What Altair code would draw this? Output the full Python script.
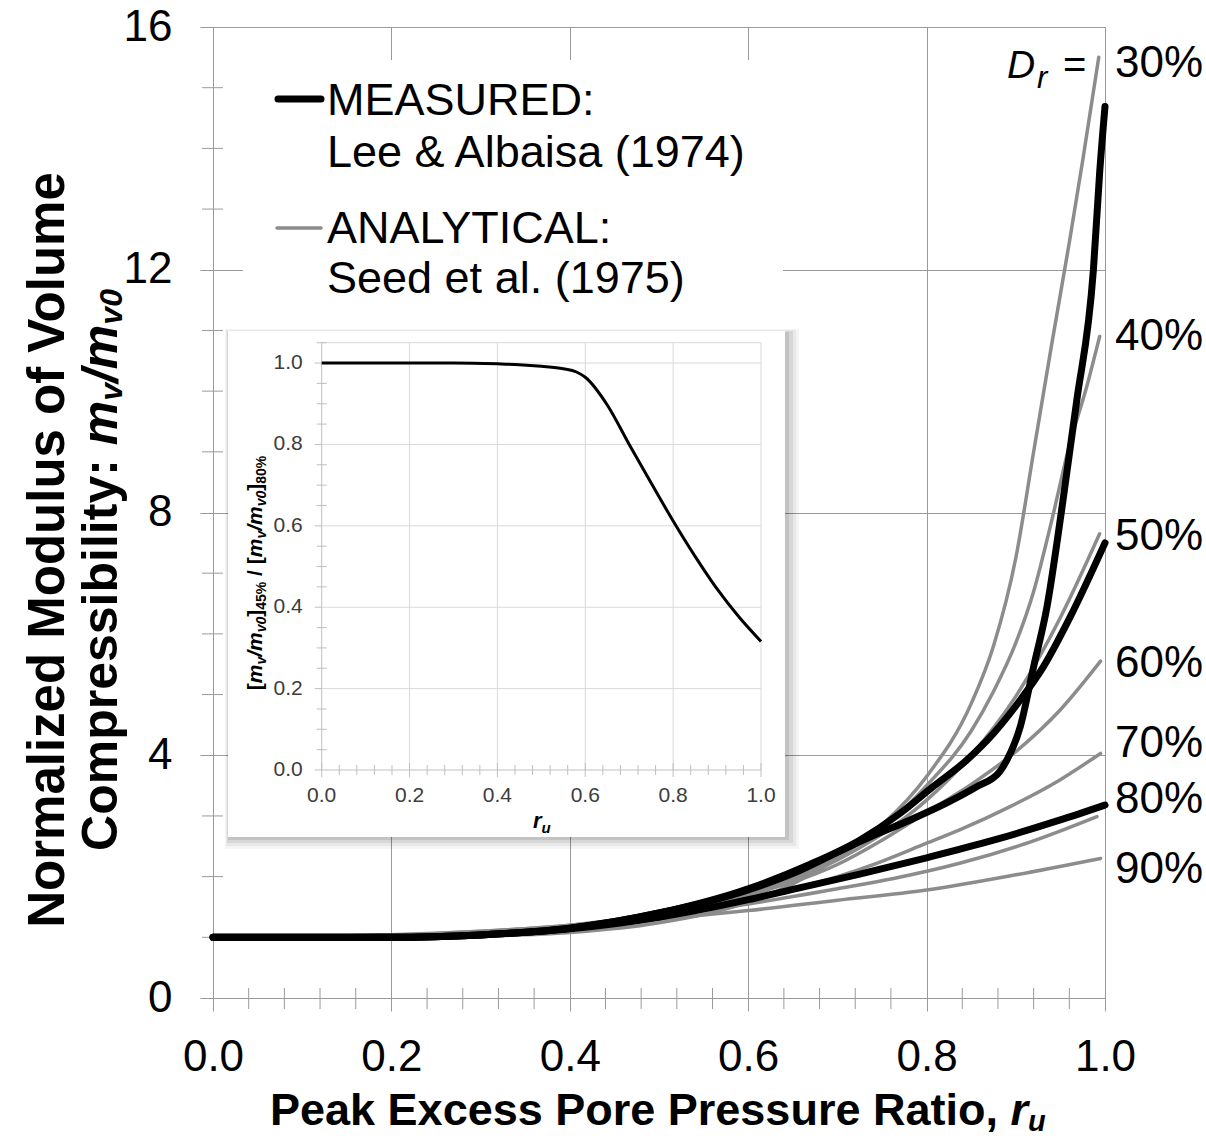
import altair as alt
import pandas as pd

FONT = "Liberation Sans, Arial, Helvetica, sans-serif"

# ---------------- data ----------------
DR_LABELS = ["30%", "40%", "50%", "60%", "70%", "80%", "90%"]

# analytical curves, Seed et al. (1975)
AN_RU = [
    [0.0, 0.1, 0.2, 0.3, 0.4, 0.5, 0.6, 0.65, 0.7, 0.75, 0.8, 0.85, 0.875, 0.9, 0.92, 0.94, 0.96, 0.975, 0.993],
    [0.0, 0.2, 0.3, 0.4, 0.5, 0.6, 0.65, 0.7, 0.75, 0.8, 0.85, 0.875, 0.9, 0.92, 0.94, 0.96, 0.98, 0.994],
    [0.0, 0.2, 0.3, 0.4, 0.5, 0.6, 0.7, 0.75, 0.8, 0.85, 0.9, 0.95, 0.994],
    [0.0, 0.2, 0.3, 0.4, 0.5, 0.6, 0.7, 0.75, 0.8, 0.85, 0.9, 0.95, 0.995],
    [0.0, 0.2, 0.3, 0.4, 0.5, 0.6, 0.7, 0.744, 0.8, 0.837, 0.893, 0.949, 0.995],
    [0.0, 0.2, 0.3, 0.4, 0.5, 0.6, 0.7, 0.763, 0.837, 0.912, 0.991],
    [0.0, 0.2, 0.3, 0.4, 0.5, 0.6, 0.7, 0.8, 0.9, 0.995],
]
AN_MV = [
    [1.0, 1.0, 1.002, 1.02, 1.08, 1.24, 1.58, 1.88, 2.3, 2.85, 3.65, 4.85, 5.8, 7.25, 9.0, 10.75, 12.45, 13.8, 15.5],
    [1.0, 1.005, 1.034, 1.12, 1.31, 1.67, 1.96, 2.34, 2.8, 3.5, 4.4, 5.05, 5.85, 6.7, 7.85, 9.1, 10.1, 10.9],
    [1.0, 1.011, 1.053, 1.156, 1.353, 1.696, 2.276, 2.70, 3.26, 4.0, 4.97, 6.27, 7.65],
    [1.0, 1.019, 1.074, 1.19, 1.38, 1.70, 2.2, 2.6, 3.06, 3.52, 4.06, 4.75, 5.55],
    [1.0, 1.028, 1.091, 1.20, 1.38, 1.635, 2.0, 2.22, 2.55, 2.77, 3.15, 3.59, 4.03],
    [1.0, 1.037, 1.10, 1.20, 1.35, 1.55, 1.80, 1.97, 2.22, 2.55, 2.99],
    [1.0, 1.042, 1.10, 1.187, 1.30, 1.44, 1.61, 1.78, 2.03, 2.30],
]

# measured curves, Lee & Albaisa (1974)
ME_NAMES = ["measured_a", "measured_b", "measured_c"]
ME_RU = [
    [0.0, 0.2, 0.3, 0.4, 0.5, 0.6, 0.65, 0.7, 0.744, 0.781, 0.822, 0.856, 0.882, 0.89, 0.905, 0.92, 0.935, 0.951, 0.968, 0.987, 0.994, 1.0],
    [0.0, 0.2, 0.3, 0.4, 0.5, 0.6, 0.669, 0.725, 0.77, 0.807, 0.845, 0.875, 0.905, 0.931, 0.961, 1.0],
    [0.0, 0.2, 0.3, 0.4, 0.5, 0.6, 0.65, 0.725, 0.8, 0.875, 0.949, 1.0],
]
ME_MV = [
    [1.0, 1.0, 1.04, 1.15, 1.4, 1.78, 2.05, 2.4, 2.7, 2.93, 3.21, 3.48, 3.73, 3.92, 4.47, 5.46, 6.45, 8.0, 9.81, 12.0, 13.6, 14.69],
    [1.0, 1.0, 1.04, 1.15, 1.4, 1.8, 2.2, 2.6, 3.04, 3.48, 3.92, 4.36, 4.91, 5.46, 6.28, 7.5],
    [1.0, 1.0, 1.04, 1.14, 1.33, 1.62, 1.79, 2.04, 2.31, 2.60, 2.93, 3.18],
]

# inset: [mv/mv0]45% / [mv/mv0]80%
INS_RU = [0.0, 0.1, 0.2, 0.3, 0.4, 0.45, 0.5, 0.55, 0.58, 0.6, 0.65, 0.7, 0.75, 0.8, 0.85, 0.9, 0.95, 1.0]
INS_RATIO = [1.0, 1.0, 1.0, 1.0, 0.998, 0.996, 0.992, 0.986, 0.978, 0.965, 0.897, 0.8, 0.705, 0.612, 0.525, 0.445, 0.376, 0.316]

# tick values
X_MAJOR = [0.0, 0.2, 0.4, 0.6, 0.8, 1.0]
X_MINOR = [0.04, 0.08, 0.12, 0.16, 0.24, 0.28, 0.32, 0.36, 0.44, 0.48, 0.52, 0.56,
           0.64, 0.68, 0.72, 0.76, 0.84, 0.88, 0.92, 0.96]
Y_MAJOR = [0, 4, 8, 12, 16]
Y_MINOR = [1, 2, 3, 5, 6, 7, 9, 10, 11, 13, 14, 15]
INS_X_MAJOR = [0.0, 0.2, 0.4, 0.6, 0.8, 1.0]
INS_Y_MAJOR = [0.0, 0.2, 0.4, 0.6, 0.8, 1.0]
INS_Y_MINOR = [0.05, 0.1, 0.15, 0.25, 0.3, 0.35, 0.45, 0.5, 0.55, 0.65, 0.7, 0.75,
               0.85, 0.9, 0.95, 1.05]

# ---------------- layout / style ----------------
OX, OY, W, H = 213, 27, 892, 971          # plot-area origin and size
GRID = "#9a9a9a"
GRAY = "#8c8c8c"
IGRID = "#d9d9d9"
IAXIS = "#bfbfbf"
ILAB = "#3c3c3c"
LABEL_BASE_Y = [77, 350, 550, 677, 757, 813, 883]

BOLD_W = {' ': 278, '!': 333, '%': 889, '&': 722, '(': 333, ')': 333, ',': 278, '-': 333, '.': 278,
          '/': 278, ':': 333, '=': 584, '[': 333, ']': 333,
          'A': 722, 'B': 722, 'C': 722, 'D': 722, 'E': 667, 'F': 611, 'G': 778, 'H': 722, 'I': 278,
          'J': 556, 'K': 722, 'L': 611, 'M': 833, 'N': 722, 'O': 778, 'P': 667, 'Q': 778, 'R': 722,
          'S': 667, 'T': 611, 'U': 722, 'V': 667, 'W': 944, 'X': 667, 'Y': 667, 'Z': 611,
          'a': 556, 'b': 611, 'c': 556, 'd': 611, 'e': 556, 'f': 333, 'g': 611, 'h': 611, 'i': 278,
          'j': 278, 'k': 556, 'l': 278, 'm': 889, 'n': 611, 'o': 611, 'p': 611, 'q': 611, 'r': 389,
          's': 556, 't': 333, 'u': 611, 'v': 556, 'w': 778, 'x': 556, 'y': 556, 'z': 500}


def bw(s, size):
    return sum(BOLD_W.get(c, 556) for c in s) * size / 1000.0


def seg_rows(segs, x0, y0, angle=0):
    rows, pos = [], 0.0
    for text, size, style, weight, shift in segs:
        if angle == 0:
            x, y = x0 + pos, y0 + shift
        else:
            x, y = x0 + shift, y0 - pos
        rows.append(dict(text=text, x=x, y=y, size=size, angle=angle, style=style,
                         weight=weight, align="left", color="#000000"))
        pos += bw(text, size)
    return rows


def seg_total(segs):
    return sum(bw(t, s) for t, s, *_ in segs)


def text_layers(rows):
    df = pd.DataFrame(rows)
    df["x"] = df["x"] - OX
    df["y"] = df["y"] - OY
    out = []
    for (style, weight, align), g in df.groupby(["style", "weight", "align"]):
        out.append(
            alt.Chart(g.reset_index(drop=True)).mark_text(
                font=FONT, fontStyle=style, fontWeight=weight, align=align, baseline="alphabetic"
            ).encode(
                x=alt.X("x:Q", scale=None),
                y=alt.Y("y:Q", scale=None),
                text="text:N",
                size=alt.Size("size:Q", scale=None, legend=None),
                angle=alt.Angle("angle:Q", scale=None),
                color=alt.Color("color:N", scale=None),
            )
        )
    return out


one = pd.DataFrame({"k": [1]})

# ---------------- main panel ----------------
XS = alt.Scale(domain=[0, 1], nice=False, zero=False)
YS = alt.Scale(domain=[0, 16], nice=False, zero=False)
x_axis = alt.Axis(values=X_MAJOR, format=".1f", title=None, grid=True, gridColor=GRID, gridWidth=1,
                  tickSize=13, tickColor=GRID, domainColor=GRID, labelFont=FONT, labelFontSize=44,
                  labelColor="#000000", labelPadding=24, labelFlush=False, labelOverlap=False)
y_axis = alt.Axis(values=Y_MAJOR, format="d", title=None, grid=True, gridColor=GRID, gridWidth=1,
                  tickSize=13, tickColor=GRID, domainColor=GRID, labelFont=FONT, labelFontSize=44,
                  labelColor="#000000", labelPadding=28, labelFlush=False, labelOverlap=False)
XE = alt.X("ru:Q", scale=XS, axis=x_axis)
YE = alt.Y("mv:Q", scale=YS, axis=y_axis)

analytical = pd.concat(
    [pd.DataFrame({"ru": r, "mv": m, "series": lab}) for lab, r, m in zip(DR_LABELS, AN_RU, AN_MV)],
    ignore_index=True)
measured = pd.concat(
    [pd.DataFrame({"ru": r, "mv": m, "series": n}) for n, r, m in zip(ME_NAMES, ME_RU, ME_MV)],
    ignore_index=True)

legend_box = alt.Chart(one).mark_rect(color="white").encode(
    x=alt.value(243 - OX), x2=alt.value(783 - OX), y=alt.value(60 - OY), y2=alt.value(331 - OY))

x_minor = alt.Chart(pd.DataFrame({"ru": X_MINOR})).mark_rule(
    color=GRID, strokeWidth=1, yOffset=-10, y2Offset=11).encode(
    x=XE, y=alt.YDatum(0, scale=YS, axis=y_axis), y2=alt.Y2Datum(0))
y_minor = alt.Chart(pd.DataFrame({"mv": Y_MINOR})).mark_rule(
    color=GRID, strokeWidth=1, xOffset=-11, x2Offset=10).encode(
    y=YE, x=alt.XDatum(0, scale=XS, axis=x_axis), x2=alt.X2Datum(0))

gray_lines = alt.Chart(analytical).mark_line(
    color=GRAY, strokeWidth=3.5, interpolate="monotone", strokeCap="round").encode(
    x=XE, y=YE, detail="series:N")
black_lines = alt.Chart(measured).mark_line(
    color="#000000", strokeWidth=7, interpolate="monotone", strokeCap="round", strokeJoin="round").encode(
    x=XE, y=YE, detail="series:N")

leg_black = alt.Chart(one).mark_rule(color="#000000", strokeWidth=7, strokeCap="round").encode(
    x=alt.value(278 - OX), x2=alt.value(321 - OX), y=alt.value(99 - OY))
leg_gray = alt.Chart(one).mark_rule(color=GRAY, strokeWidth=3.5, strokeCap="round").encode(
    x=alt.value(277 - OX), x2=alt.value(321 - OX), y=alt.value(228 - OY))

main_rows = []
for lab, by in zip(DR_LABELS, LABEL_BASE_Y):
    main_rows.append(dict(text=lab, x=1115, y=by, size=44, angle=0, style="normal",
                          weight="normal", align="left", color="#000000"))
main_rows += [
    dict(text="D", x=1007, y=78, size=39, angle=0, style="italic", weight="normal", align="left", color="#000000"),
    dict(text="r", x=1037, y=88, size=31, angle=0, style="italic", weight="normal", align="left", color="#000000"),
    dict(text="=", x=1063, y=78, size=40, angle=0, style="normal", weight="normal", align="left", color="#000000"),
]
for txt, by in [("MEASURED:", 115), ("Lee & Albaisa (1974)", 167), ("ANALYTICAL:", 243), ("Seed et al. (1975)", 293)]:
    main_rows.append(dict(text=txt, x=327, y=by, size=45, angle=0, style="normal",
                          weight="normal", align="left", color="#000000"))
# x-axis title
main_rows += seg_rows([("Peak Excess Pore Pressure Ratio,", 45, "normal", "bold", 0),
                       (" ", 45, "normal", "bold", 0),
                       ("r", 45, "italic", "bold", 0),
                       ("u", 29, "italic", "bold", 6)], 270, 1125)
# y-axis title (two lines, rotated)
main_rows.append(dict(text="Normalized Modulus of Volume", x=64, y=550, size=51, angle=270,
                      style="normal", weight="bold", align="center", color="#000000"))
ytl2 = [("Compressibility:", 50, "normal", "bold", 0), (" ", 50, "normal", "bold", 0),
        ("m", 50, "italic", "bold", 0), ("v", 32, "italic", "bold", 5),
        ("/m", 50, "italic", "bold", 0), ("v0", 32, "italic", "bold", 5)]
main_rows += seg_rows(ytl2, 117, 570 + seg_total(ytl2) / 2, angle=270)

main = alt.layer(legend_box, x_minor, y_minor, gray_lines, black_lines, leg_black, leg_gray,
                 *text_layers(main_rows))

# ---------------- inset panel ----------------
XI = alt.Scale(domain=[0, 1], range=[321.7 - OX, 761 - OX], nice=False, zero=False)
YI = alt.Scale(domain=[0, 1.05], range=[770 - OY, 342.7 - OY], nice=False, zero=False)
XIE = alt.X("ru:Q", scale=XI, axis=None)
YIE = alt.Y("ratio:Q", scale=YI, axis=None)

box = (228, 331, 785, 837)
shadow_layers = []
for dx1, dy1, dx2, dy2, op in [(-3, -2, 14, 12, 0.04), (-2, -1, 11, 9, 0.05),
                               (-1, 0, 8, 6, 0.07), (0, 1, 4, 3, 0.09)]:
    shadow_layers.append(alt.Chart(one).mark_rect(color="#000000", opacity=op).encode(
        x=alt.value(box[0] + dx1 - OX), x2=alt.value(box[2] + dx2 - OX),
        y=alt.value(box[1] + dy1 - OY), y2=alt.value(box[3] + dy2 - OY)))
inset_box = alt.Chart(one).mark_rect(color="white").encode(
    x=alt.value(box[0] - OX), x2=alt.value(box[2] - OX), y=alt.value(box[1] - OY), y2=alt.value(box[3] - OY))

ih_grid = alt.Chart(pd.DataFrame({"ratio": INS_Y_MAJOR[1:] + [1.05]})).mark_rule(color=IGRID, strokeWidth=1).encode(
    y=YIE, x=alt.XDatum(0, scale=XI, axis=None), x2=alt.X2Datum(1))
iv_grid = alt.Chart(pd.DataFrame({"ru": INS_X_MAJOR[1:]})).mark_rule(color=IGRID, strokeWidth=1).encode(
    x=XIE, y=alt.YDatum(0, scale=YI, axis=None), y2=alt.Y2Datum(1.05))
i_left = alt.Chart(one).mark_rule(color=IAXIS, strokeWidth=1).encode(
    x=alt.XDatum(0, scale=XI, axis=None), y=alt.YDatum(0, scale=YI, axis=None), y2=alt.Y2Datum(1.05))
i_bottom = alt.Chart(one).mark_rule(color=IAXIS, strokeWidth=1).encode(
    y=alt.YDatum(0, scale=YI, axis=None), x=alt.XDatum(0, scale=XI, axis=None), x2=alt.X2Datum(1))
iy_major = alt.Chart(pd.DataFrame({"ratio": INS_Y_MAJOR})).mark_rule(
    color=IAXIS, xOffset=-7, x2Offset=0).encode(
    y=YIE, x=alt.XDatum(0, scale=XI, axis=None), x2=alt.X2Datum(0))
iy_minor = alt.Chart(pd.DataFrame({"ratio": INS_Y_MINOR})).mark_rule(
    color=IAXIS, xOffset=-5, x2Offset=5).encode(
    y=YIE, x=alt.XDatum(0, scale=XI, axis=None), x2=alt.X2Datum(0))
ix_major = alt.Chart(pd.DataFrame({"ru": INS_X_MAJOR})).mark_rule(
    color=IAXIS, yOffset=-7, y2Offset=7).encode(
    x=XIE, y=alt.YDatum(0, scale=YI, axis=None), y2=alt.Y2Datum(0))
ix_minor = alt.Chart(pd.DataFrame({"ru": X_MINOR})).mark_rule(
    color=IAXIS, yOffset=-5, y2Offset=5).encode(
    x=XIE, y=alt.YDatum(0, scale=YI, axis=None), y2=alt.Y2Datum(0))

i_curve = alt.Chart(pd.DataFrame({"ru": INS_RU, "ratio": INS_RATIO})).mark_line(
    color="#000000", strokeWidth=3, interpolate="monotone").encode(x=XIE, y=YIE)

ix_labels = alt.Chart(pd.DataFrame({"ru": INS_X_MAJOR, "lab": [f"{v:.1f}" for v in INS_X_MAJOR]})).mark_text(
    font=FONT, fontSize=21, color=ILAB, baseline="top", dy=15).encode(
    x=XIE, y=alt.YDatum(0, scale=YI, axis=None), text="lab:N")
iy_labels = alt.Chart(pd.DataFrame({"ratio": INS_Y_MAJOR, "lab": [f"{v:.1f}" for v in INS_Y_MAJOR]})).mark_text(
    font=FONT, fontSize=21, color=ILAB, align="right", baseline="middle", dx=-19).encode(
    y=YIE, x=alt.XDatum(0, scale=XI, axis=None), text="lab:N")

half = [("[", 21, "normal", "bold", 0), ("m", 21, "italic", "bold", 0), ("v", 14, "italic", "bold", 4),
        ("/m", 21, "italic", "bold", 0), ("v0", 14, "italic", "bold", 4), ("]", 21, "normal", "bold", 0)]
ins_ytitle = (half + [("45%", 14, "normal", "bold", 4), (" ", 21, "normal", "bold", 0),
                      ("/", 21, "normal", "bold", 0), (" ", 21, "normal", "bold", 0)]
              + half + [("80%", 14, "normal", "bold", 4)])
inset_rows = seg_rows(ins_ytitle, 262, 573 + seg_total(ins_ytitle) / 2, angle=270)
inset_rows += seg_rows([("r", 22, "italic", "bold", 0), ("u", 15, "italic", "bold", 5)], 533, 828)

inset = alt.layer(*shadow_layers, inset_box, ih_grid, iv_grid, i_left, i_bottom,
                  iy_major, iy_minor, ix_major, ix_minor, i_curve, ix_labels, iy_labels,
                  *text_layers(inset_rows))

chart = alt.layer(main, inset).resolve_scale(x="independent", y="independent").properties(
    width=W, height=H,
    padding={"left": OX, "top": OY, "right": 1206 - OX - W, "bottom": 1136 - OY - H},
    autosize=alt.AutoSizeParams(type="none"),
    background="white",
).configure_view(stroke=GRID, strokeWidth=1)

chart.save("out.html", embed_options={"renderer": "svg", "actions": False})
